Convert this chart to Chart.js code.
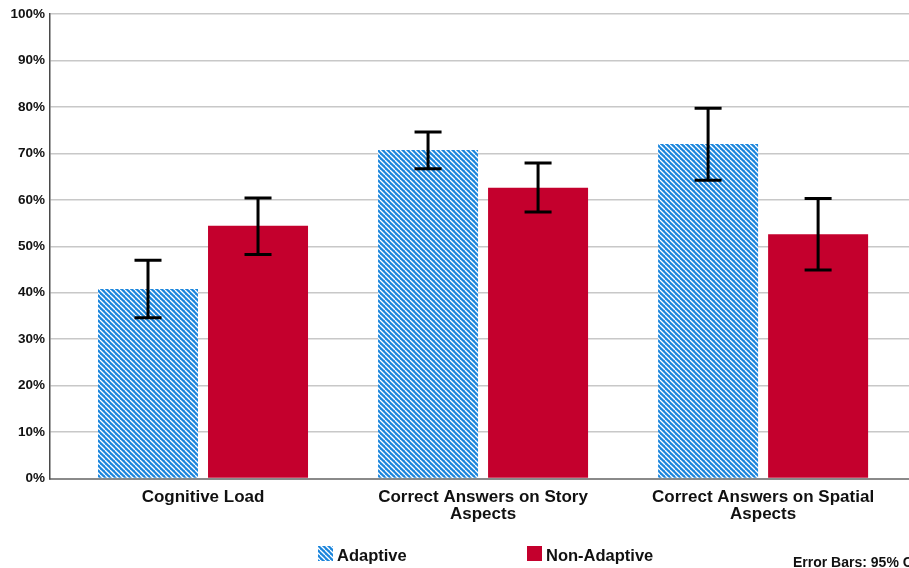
<!DOCTYPE html>
<html>
<head>
<meta charset="utf-8">
<script src="https://cdn.jsdelivr.net/npm/chart.js@4"></script>
<style>
  html, body { margin: 0; padding: 0; background: #ffffff; }
  #wrap { width: 909px; height: 568px; }
</style>
</head>
<body>
<div id="wrap"><canvas id="chart" width="909" height="568"></canvas></div>
<script>
// ---- data ----
const categories = [
  ["Cognitive Load"],
  ["Correct Answers on Story", "Aspects"],
  ["Correct Answers on Spatial", "Aspects"]
];
const seriesNames = ["Adaptive", "Non-Adaptive"];
const adaptiveMean = [40.8, 70.7, 72.0];
const adaptiveLow = [34.6, 66.7, 64.2];
const adaptiveHigh = [47.0, 74.6, 79.7];
const nonAdaptiveMean = [54.4, 62.6, 52.6];
const nonAdaptiveLow = [48.2, 57.4, 44.9];
const nonAdaptiveHigh = [60.4, 67.9, 60.3];
const yTickValues = [0, 10, 20, 30, 40, 50, 60, 70, 80, 90, 100];
const footnote = "Error Bars: 95% CI";

// ---- styles ----
const BLUE = '#1a85dc';
const RED = '#c4002d';
const FONT = "'Liberation Sans', Arial, Helvetica, sans-serif";

function makeHatch() {
  const s = 5;
  const c = document.createElement('canvas');
  c.width = s; c.height = s;
  const g = c.getContext('2d');
  g.fillStyle = BLUE;
  g.fillRect(0, 0, s, s);
  g.strokeStyle = '#ffffff';
  g.lineWidth = 1.3;
  for (const k of [-s, 0, s]) {
    g.beginPath();
    g.moveTo(k, 0);
    g.lineTo(k + s, s);
    g.stroke();
  }
  return g.createPattern(c, 'repeat');
}
const ctx0 = document.getElementById('chart').getContext('2d');
const hatch = makeHatch();

const errorData = [
  { low: adaptiveLow, high: adaptiveHigh },
  { low: nonAdaptiveLow, high: nonAdaptiveHigh }
];

const errorBarPlugin = {
  id: 'errorBars',
  afterDatasetsDraw(chart) {
    const ctx = chart.ctx;
    const yScale = chart.scales.y;
    ctx.save();
    ctx.strokeStyle = '#000000';
    ctx.lineWidth = 3;
    ctx.lineCap = 'butt';
    chart.data.datasets.forEach((ds, di) => {
      const meta = chart.getDatasetMeta(di);
      meta.data.forEach((el, i) => {
        const x = el.x;
        const yl = yScale.getPixelForValue(errorData[di].low[i]);
        const yh = yScale.getPixelForValue(errorData[di].high[i]);
        const cap = 13.5;
        ctx.beginPath();
        ctx.moveTo(x, yh); ctx.lineTo(x, yl);
        ctx.moveTo(x - cap, yh); ctx.lineTo(x + cap, yh);
        ctx.moveTo(x - cap, yl); ctx.lineTo(x + cap, yl);
        ctx.stroke();
      });
    });
    ctx.restore();
  }
};

const legendPlugin = {
  id: 'customLegend',
  afterDraw(chart) {
    const ctx = chart.ctx;
    ctx.save();
    const items = [
      { x: 318, fill: hatch, text: seriesNames[0] },
      { x: 527, fill: RED, text: seriesNames[1] }
    ];
    ctx.font = "bold 16.5px " + FONT;
    ctx.textBaseline = 'alphabetic';
    ctx.textAlign = 'left';
    items.forEach(it => {
      ctx.fillStyle = it.fill;
      ctx.fillRect(it.x, 546, 15, 15);
      ctx.fillStyle = '#111111';
      ctx.fillText(it.text, it.x + 19, 561);
    });
    ctx.font = "bold 14px " + FONT;
    ctx.fillStyle = '#111111';
    ctx.fillText(footnote, 793, 567);
    ctx.restore();
  }
};

new Chart(ctx0, {
  type: 'bar',
  data: {
    datasets: [
      {
        label: seriesNames[0],
        data: adaptiveMean.map((v, i) => ({ x: i, y: v })),
        backgroundColor: hatch,
        borderWidth: 0
      },
      {
        label: seriesNames[1],
        data: nonAdaptiveMean.map((v, i) => ({ x: i, y: v })),
        backgroundColor: RED,
        borderWidth: 0
      }
    ]
  },
  options: {
    responsive: false,
    animation: false,
    devicePixelRatio: 1,
    layout: { padding: { top: 14, left: 0, right: 0, bottom: 0 } },
    datasets: {
      bar: { categoryPercentage: 0.7857, barPercentage: 0.909 }
    },
    plugins: {
      legend: { display: false },
      tooltip: { enabled: false }
    },
    scales: {
      x: {
        type: 'linear',
        offset: false,
        min: -0.5464,
        max: 2.521,
        afterBuildTicks(scale) {
          scale.ticks = categories.map((c, i) => ({ value: i }));
        },
        afterFit(scale) { scale.height = 89.5; },
        ticks: {
          callback: (v) => categories[v],
          font: { family: FONT, size: 17, weight: 'bold', lineHeight: 1.0 },
          color: '#111111',
          padding: 10,
          maxRotation: 0,
          autoSkip: false
        },
        grid: { display: false, drawTicks: false, offset: false },
        border: { display: true, color: '#8a8a8a', width: 2 }
      },
      y: {
        min: 0,
        max: 100,
        afterBuildTicks(scale) {
          scale.ticks = yTickValues.map(v => ({ value: v }));
        },
        afterFit(scale) { scale.width = 50; },
        ticks: {
          callback: (v) => v + '%',
          font: { family: FONT, size: 13.5, weight: 'bold' },
          color: '#111111',
          padding: 5
        },
        grid: { color: '#c8c8c8', lineWidth: 1.5, drawTicks: false },
        border: { display: true, color: '#4a4a4a', width: 1.5 }
      }
    }
  },
  plugins: [errorBarPlugin, legendPlugin]
});
</script>
</body>
</html>
